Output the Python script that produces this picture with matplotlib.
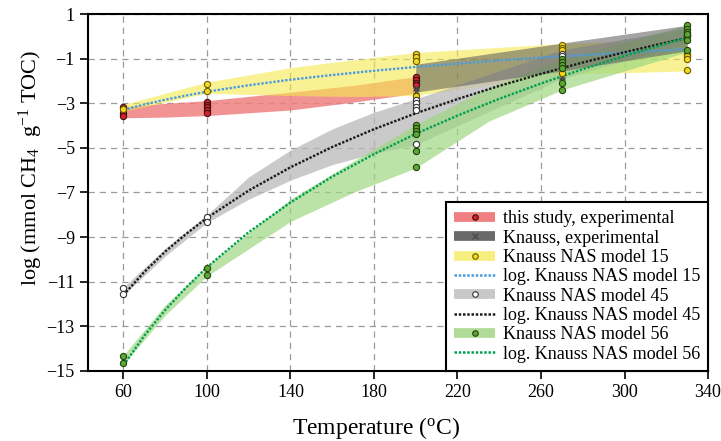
import matplotlib
matplotlib.use("Agg")
import matplotlib.pyplot as plt
from matplotlib.lines import Line2D

plt.rcParams['font.family'] = ['Liberation Serif', 'DejaVu Serif']
plt.rcParams['mathtext.fontset'] = 'custom'
plt.rcParams['mathtext.rm'] = 'Liberation Serif'

# ---- bands (upper / lower edges) ----
t_red = [60, 80, 100, 140, 170, 200]
red_hi = [-3.15, -3.0, -2.88, -2.5, -2.2, -1.8]
red_lo = [-3.65, -3.62, -3.55, -3.3, -2.95, -2.55]

t_yel = [60, 100, 140, 170, 200, 270, 330]
yel_hi = [-3.05, -2.05, -1.4, -1.05, -0.72, -0.32, -0.1]
yel_lo = [-3.35, -2.55, -2.65, -2.7, -2.65, -1.7, -1.55]

t_kexp = [200, 270, 330]
kexp_hi = [-1.25, -0.3, 0.5]
kexp_lo = [-2.5, -1.55, -0.65]

t_m45 = [60, 80, 100, 120, 140, 160, 180, 200, 270, 330]
m45_hi = [-11.25, -9.5, -8.0, -6.3, -5.1, -4.15, -3.4, -2.8, -0.6, 0.35]
m45_lo = [-11.6, -9.85, -8.35, -7.3, -6.45, -5.75, -5.25, -4.85, -1.9, -0.3]

t_m56 = [60, 80, 100, 140, 170, 200, 235, 270, 330]
m56_hi = [-14.3, -12.05, -10.3, -7.3, -5.6, -3.95, -2.3, -1.0, 0.5]
m56_lo = [-14.7, -12.5, -10.75, -8.3, -7.0, -5.9, -3.8, -2.4, -0.7]

# ---- logarithmic trend lines ----
t_fit = [60, 70, 80, 90, 100, 120, 140, 160, 180, 200, 220, 240, 260, 280, 300, 330]
fit15 = [-3.30, -3.05, -2.84, -2.65, -2.48, -2.19, -1.94, -1.73, -1.54, -1.37,
         -1.22, -1.08, -0.95, -0.84, -0.73, -0.57]
fit45 = [-11.60, -10.56, -9.65, -8.86, -8.14, -6.91, -5.87, -4.96, -4.16, -3.45,
         -2.81, -2.22, -1.68, -1.17, -0.71, -0.06]
fit56 = [-14.75, -13.42, -12.27, -11.26, -10.35, -8.78, -7.45, -6.29, -5.28, -4.37,
         -3.55, -2.80, -2.11, -1.47, -0.88, -0.05]

# ---- measured / modelled points ----
red_T = [60, 60, 60, 100, 100, 100, 100, 100, 200, 200, 200, 200]
red_v = [-3.18, -3.45, -3.57, -2.96, -3.07, -3.18, -3.28, -3.45, -1.8, -1.95, -2.1, -2.2]

kexp_T = [200, 200, 270, 270, 330, 330]
kexp_v = [-2.3, -2.45, -1.8, -1.95, 0.0, -0.1]

yel_T = [60, 100, 100, 200, 200, 200, 200, 270, 270, 270, 270, 330, 330, 330, 330]
yel_v = [-3.25, -2.13, -2.43, -0.78, -0.93, -1.1, -2.66, -0.39, -0.51, -0.63, -1.62,
         -0.78, -0.88, -1.0, -1.52]

m45_T = [60, 60, 100, 100, 200, 200, 200, 200, 200, 270, 270, 330, 330]
m45_v = [-11.27, -11.56, -8.08, -8.33, -2.85, -3.0, -3.15, -3.3, -4.84, -0.78, -0.88, 0.0, 0.05]

m56_T = [60, 60, 100, 100, 200, 200, 200, 200, 200, 200, 270, 270, 270, 270, 270, 270,
         330, 330, 330, 330, 330, 330]
m56_v = [-14.33, -14.63, -10.38, -10.7, -3.96, -4.1, -4.26, -4.37, -5.12, -5.86,
         -1.03, -1.15, -1.3, -1.41, -2.11, -2.39, 0.49, 0.34, 0.22, 0.12, -0.18, -0.63]

labels = ['this study, experimental', 'Knauss, experimental', 'Knauss NAS model 15',
          'log. Knauss NAS model 15', 'Knauss NAS model 45', 'log. Knauss NAS model 45',
          'Knauss NAS model 56', 'log. Knauss NAS model 56']

c_red, c_yel, c_kexp, c_m45, c_m56 = '#ef7f80', '#f6ea4e', '#5a5a5a', '#b9b9b9', '#9fd882'

fig = plt.figure(figsize=(7.21, 4.41), dpi=100)
ax = fig.add_axes([0.122, 0.159, 0.860, 0.809])

ax.fill_between(t_red, red_lo, red_hi, color=c_red, alpha=0.85, lw=0, zorder=1)
ax.fill_between(t_yel, yel_lo, yel_hi, color=c_yel, alpha=0.6, lw=0, zorder=2)
ax.fill_between(t_m45, m45_lo, m45_hi, color=c_m45, alpha=0.75, lw=0, zorder=2)
ax.fill_between(t_m56, m56_lo, m56_hi, color=c_m56, alpha=0.7, lw=0, zorder=2)
ax.fill_between(t_kexp, kexp_lo, kexp_hi, color=c_kexp, alpha=0.55, lw=0, zorder=3)

dots = (0, (1, 0.7))
ax.plot(t_fit, fit15, color='#4a9be0', lw=1.7, ls=dots, zorder=4)
ax.plot(t_fit, fit45, color='#1a1a1a', lw=1.7, ls=dots, zorder=4)
ax.plot(t_fit, fit56, color='#00a050', lw=1.7, ls=dots, zorder=4)

mk = dict(ls='none', marker='o', ms=4.5, mew=0.8, zorder=5)
ax.plot(red_T, red_v, mfc='#d8202a', mec='#3a1010', **mk)
ax.plot(kexp_T, kexp_v, ls='none', marker='x', ms=4, mew=0.9, color='#444444', zorder=5)
ax.plot(yel_T, yel_v, mfc='#f4d820', mec='#6a5a00', **mk)
ax.plot(m45_T, m45_v, mfc='white', mec='#333333', **mk)
ax.plot(m56_T, m56_v, mfc='#5aa832', mec='#24400e', **mk)

ax.set_xlim(43, 340)
ax.set_ylim(-15, 1)
ax.set_xticks(range(60, 341, 40))
ax.set_yticks(range(-15, 2, 2))
ax.grid(True, ls=(0, (5, 4)), color='#9a9a9a', lw=0.9)
ax.set_axisbelow(True)
ax.tick_params(direction='out', length=6, width=1.2, labelsize=13)
for s in ax.spines.values():
    s.set_linewidth(1.5)

ax.set_xlabel('Temperature ($\\mathregular{^{o}}$C)', fontsize=17)
ax.xaxis.set_label_coords(0.465, -0.125)
ax.set_ylabel('log (mmol CH$\\mathregular{_4}$  g$\\mathregular{^{-1}}$ TOC)', fontsize=16)
ax.yaxis.set_label_coords(-0.07, 0.57)

def band_handle(col, mfc, mec, marker='o'):
    band = Line2D([], [], color=col, lw=7, solid_capstyle='butt')
    pt = Line2D([], [], ls='none', marker=marker, ms=4, mew=0.8, mfc=mfc, mec=mec)
    return (band, pt)

handles = [
    band_handle(c_red, '#d8202a', '#3a1010'),
    band_handle('#6a6a6a', '#444444', '#444444', 'x'),
    band_handle('#f7ef80', '#f4d820', '#6a5a00'),
    Line2D([], [], color='#4a9be0', lw=1.8, ls=dots),
    band_handle('#c8c8c8', 'white', '#333333'),
    Line2D([], [], color='#1a1a1a', lw=1.8, ls=dots),
    band_handle('#b0dc98', '#5aa832', '#24400e'),
    Line2D([], [], color='#00a050', lw=1.8, ls=dots),
]
leg = ax.legend(handles, labels, loc='lower right', bbox_to_anchor=(1, 0),
                borderaxespad=0, fontsize=13, labelspacing=0.13, handlelength=2.3,
                handletextpad=0.4, fancybox=False, framealpha=1, edgecolor='black',
                borderpad=0.45)
leg.get_frame().set_linewidth(1.5)
leg.set_zorder(10)

fig.savefig('out.png', dpi=100)
